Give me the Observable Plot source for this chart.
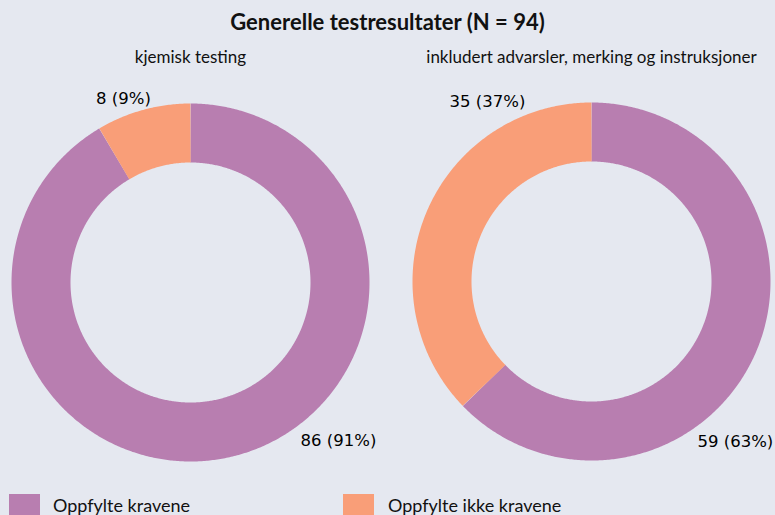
<!DOCTYPE html>
<html>
<head>
<meta charset="utf-8">
<script src="https://cdn.jsdelivr.net/npm/d3@7"></script>
<script src="https://cdn.jsdelivr.net/npm/@observablehq/plot@0.6"></script>
<style>
  html, body { margin: 0; padding: 0; background: #e5e8f0; }
  #wrap { position: relative; width: 775px; height: 515px; overflow: hidden; background: #e5e8f0; font-family: Lato, "Open Sans", sans-serif; color: #111; }
  #title { height: 44px; line-height: 44px; text-align: center; font-weight: bold; font-size: 22px; }
  #legend { position: absolute; left: 0; top: 480px; width: 775px; height: 35px; }
  .sw { position: absolute; top: 14px; width: 31px; height: 31px; }
  .lt { position: absolute; top: 14px; font-size: 18px; line-height: 22px; }
</style>
</head>
<body>
<div id="wrap">
  <div id="title"></div>
  <div id="chart"></div>
  <div id="legend"></div>
</div>
<script>
// ---- data ----
const title = "Generelle testresultater (N = 94)";
const panels = ["kjemisk testing", "inkludert advarsler, merking og instruksjoner"];
const categories = ["Oppfylte kravene", "Oppfylte ikke kravene"];
const meets = [86, 59];
const notMeets = [8, 35];
const colors = ["#b87eb0", "#f99e78"];

// ---- layout ----
const W = 775, H = 436;
const centers = [[190, 238], [591, 237]];
const rOut = 179, rIn = 120;
const rMid = (rOut + rIn) / 2, thick = rOut - rIn;
// label placement: [angle (deg clockwise from top), radius] per category per panel
const labelPolar = [
  [[137, 217], [340, 196]],
  [[138, 215], [330, 208]]
];

document.getElementById("title").textContent = title;

const ringPts = [];
const labels = [];
panels.forEach((p, i) => {
  const vals = [meets[i], notMeets[i]];
  const total = d3.sum(vals);
  let a0 = 0;
  vals.forEach((v, j) => {
    const a1 = a0 + v / total * 360;
    const n = Math.max(2, Math.ceil((a1 - a0) / 0.5));
    for (let k = 0; k <= n; k++) {
      const a = (a0 + (a1 - a0) * k / n) * Math.PI / 180;
      ringPts.push({panel: p, cat: categories[j], x: centers[i][0] + rMid * Math.sin(a), y: centers[i][1] - rMid * Math.cos(a)});
    }
    const [la, lr] = labelPolar[i][j];
    const lrad = la * Math.PI / 180;
    labels.push({
      text: `${v} (${Math.round(v / total * 100)}%)`,
      x: centers[i][0] + lr * Math.sin(lrad),
      y: centers[i][1] - lr * Math.cos(lrad)
    });
    a0 = a1;
  });
});

const subs = panels.map((p, i) => ({text: p, x: centers[i][0], y: 13}));

const chart = Plot.plot({
  width: W, height: H,
  margin: 0,
  style: {background: "transparent", overflow: "visible"},
  x: {type: "linear", domain: [0, W], range: [0, W], axis: null},
  y: {type: "linear", domain: [0, H], range: [0, H], axis: null},
  color: {domain: categories, range: colors},
  marks: [
    Plot.line(ringPts, {x: "x", y: "y", z: d => d.panel + "|" + d.cat, stroke: "cat", strokeWidth: thick, strokeLinecap: "butt", strokeLinejoin: "round"}),
    Plot.text(subs, {x: "x", y: "y", text: "text", fontSize: 17, fill: "#111", fontFamily: "Lato, sans-serif"}),
    Plot.text(labels, {x: "x", y: "y", text: "text", fontSize: 16.5, fill: "#000", fontFamily: "DejaVu Sans, sans-serif"})
  ]
});
document.getElementById("chart").appendChild(chart);

const legend = document.getElementById("legend");
const legPos = [[9, 53], [343, 388]];
categories.forEach((c, j) => {
  const sw = document.createElement("div");
  sw.className = "sw"; sw.style.left = legPos[j][0] + "px"; sw.style.background = colors[j];
  const lt = document.createElement("div");
  lt.className = "lt"; lt.style.left = legPos[j][1] + "px"; lt.textContent = c;
  legend.appendChild(sw); legend.appendChild(lt);
});
</script>
</body>
</html>
